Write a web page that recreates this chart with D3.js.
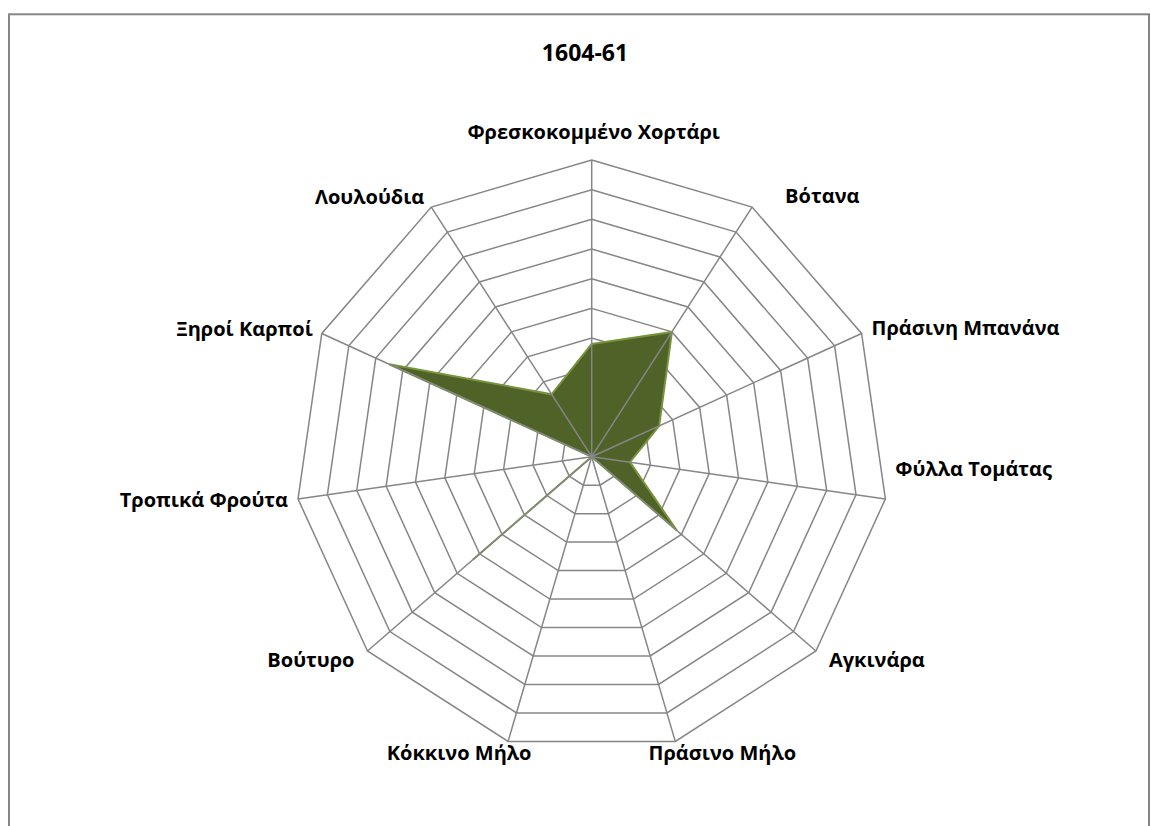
<!DOCTYPE html>
<html lang="el">
<head>
  <meta charset="utf-8">
  <title>1604-61</title>
  <script src="https://d3js.org/d3.v7.min.js"></script>
  <style>
    body { margin: 0; background: #fff; }
    .lbl { font: bold 20px "Open Sans", sans-serif; fill: #000; }
    .title { font: bold 23px "Open Sans", sans-serif; fill: #000; }
  </style>
</head>
<body>
  <div id="chart"></div>
  <script>
    // dados
    const title = "1604-61";
    const categorias = ["Φρεσκοκομμένο Χορτάρι", "Βότανα", "Πράσινη Μπανάνα", "Φύλλα Τομάτας",
      "Αγκινάρα", "Πράσινο Μήλο", "Κόκκινο Μήλο", "Βούτυρο", "Τροπικά Φρούτα",
      "Ξηροί Καρποί", "Λουλούδια"];
    const valores = [3.8, 5, 2.5, 1.3, 3.8, 0, 0, 5.3, 0, 7.5, 2.5];
    const aneis = [1, 2, 3, 4, 5, 6, 7, 8, 9, 10];

    const W = 1151, H = 826;
    const cx = 591.7, cy = 456.7, raio = 296.7;

    const svg = d3.select("#chart").append("svg")
      .attr("width", W).attr("height", H);

    // moldura
    svg.append("rect")
      .attr("x", 9).attr("y", 14.3)
      .attr("width", 1140).attr("height", 840)
      .attr("fill", "none").attr("stroke", "#868686").attr("stroke-width", 2);

    svg.append("text").attr("class", "title")
      .attr("x", 585).attr("y", 52)
      .attr("text-anchor", "middle").attr("dominant-baseline", "central")
      .text(title);

    const g = svg.append("g").attr("transform", `translate(${cx},${cy})`);

    const r = d3.scaleLinear().domain([0, 10]).range([0, raio]);
    const ang = d3.scaleLinear().domain([0, categorias.length]).range([0, 2 * Math.PI]);

    const ponto = (i, v) => [Math.sin(ang(i)) * r(v), -Math.cos(ang(i)) * r(v)];

    // aneis da grade
    g.selectAll(".anel").data(aneis).enter().append("polygon")
      .attr("class", "anel")
      .attr("points", d => categorias.map((c, i) => ponto(i, d).join(",")).join(" "))
      .attr("fill", "none").attr("stroke", "#868686").attr("stroke-width", 1.5);

    // a serie
    const linha = d3.lineRadial()
      .angle((d, i) => ang(i))
      .radius(d => r(d))
      .curve(d3.curveLinearClosed);

    g.append("path")
      .attr("d", linha(valores))
      .attr("fill", "#4F6228")
      .attr("stroke", "#77933C").attr("stroke-width", 2)
      .attr("stroke-linejoin", "miter");

    // eixos
    g.selectAll(".eixo").data(categorias).enter().append("line")
      .attr("class", "eixo")
      .attr("x1", 0).attr("y1", 0)
      .attr("x2", (d, i) => ponto(i, 10)[0])
      .attr("y2", (d, i) => ponto(i, 10)[1])
      .attr("stroke", "#868686").attr("stroke-width", 1.5);

    // rotulos: deslocamento a partir do vertice externo
    const ajuste = [
      ["middle", 2, -29], ["start", 33, -12], ["start", 10, -6], ["start", 10, -30],
      ["start", 13, 9], ["middle", 47, 11], ["middle", -49, 11], ["end", -13, 9],
      ["end", -10, 1], ["end", -9, -5], ["end", -7, -11]
    ];
    g.selectAll(".lbl").data(categorias).enter().append("text")
      .attr("class", "lbl")
      .attr("x", (d, i) => ponto(i, 10)[0] + ajuste[i][1])
      .attr("y", (d, i) => ponto(i, 10)[1] + ajuste[i][2])
      .attr("text-anchor", (d, i) => ajuste[i][0])
      .attr("dominant-baseline", "central")
      .text(d => d);
  </script>
</body>
</html>
